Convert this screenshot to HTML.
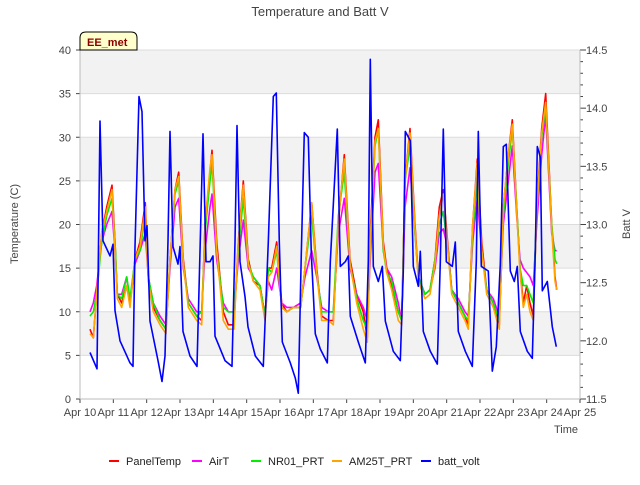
<!DOCTYPE html>
<html><head><meta charset="utf-8"><style>
body{margin:0;background:#fff}
svg text{font-family:"Liberation Sans","DejaVu Sans",sans-serif}
</style></head><body>
<svg id="c" width="640" height="480" xmlns="http://www.w3.org/2000/svg">
<text x="320" y="16" text-anchor="middle" font-size="13" fill="#444">Temperature and Batt V</text>
<g id="bands"></g><g id="grid"></g><g id="axes"></g><g id="series"></g>
<g>
<path d="M80,50 L80,38 Q80,32 86,32 L131,32 Q137,32 137,38 L137,50 Z" fill="#ffffcc" stroke="#000" stroke-width="1"/>
<text x="87" y="46" font-size="11" font-weight="bold" fill="#8b0000">EE_met</text></g>
<text x="578" y="433" text-anchor="end" font-size="11" fill="#444">Time</text>
<text transform="translate(18,224) rotate(-90)" text-anchor="middle" font-size="11" fill="#444">Temperature (C)</text>
<text transform="translate(630,224) rotate(-90)" text-anchor="middle" font-size="11" fill="#444">Batt V</text>
<g id="legend"></g>
</svg>
<script>
const xTicks=["Apr 10","Apr 11","Apr 12","Apr 13","Apr 14","Apr 15","Apr 16","Apr 17","Apr 18","Apr 19","Apr 20","Apr 21","Apr 22","Apr 23","Apr 24","Apr 25"];
const yTicks=[0,5,10,15,20,25,30,35,40];
const y2Ticks=[11.5,12.0,12.5,13.0,13.5,14.0,14.5];
const tT=[0.30,0.40,0.50,0.65,0.80,0.96,1.05,1.12,1.25,1.40,1.50,1.65,1.80,1.96,2.05,2.20,2.40,2.58,2.70,2.85,2.96,3.10,3.25,3.50,3.65,3.75,3.90,3.96,4.10,4.30,4.45,4.62,4.75,4.90,5.05,5.20,5.40,5.55,5.65,5.75,5.90,6.05,6.20,6.40,6.62,6.75,6.95,7.10,7.25,7.45,7.60,7.75,7.93,8.10,8.30,8.50,8.62,8.72,8.85,8.95,9.10,9.20,9.35,9.55,9.65,9.75,9.90,10.05,10.15,10.35,10.50,10.65,10.78,10.90,11.05,11.15,11.35,11.55,11.65,11.78,11.92,12.05,12.20,12.40,12.58,12.70,12.85,12.97,13.10,13.20,13.30,13.40,13.50,13.60,13.70,13.85,13.97,14.15,14.25,14.30];
const panel=[8,7,12,19,22,24.5,18,12,11,13,11,16,18,22.5,14,10.5,9,8,16,24,26,16,11,9.5,9,20,26,28.5,18,10,8.5,8.5,18,25,16,13.5,13,9.5,15,15,18,11,10,10.5,10.5,15,22.5,15,9.5,9,9,20,28,16,12,10,7,20,30,32,18,15,13,10,9,25,31,20,14,12,12.5,16,22,24,17,12.5,11,9.5,8.5,20,27.5,18,12.5,11,8.5,22,28,32,22,15,11,13,11,9.5,22,31,35,20,14,12.5];
const airT=[10,11,13,18,20,21.5,17,12,12,14,11,15.5,17,19,14,11,9.5,8.5,15,22,23,15,11.5,10,10,17,22,23.5,16,11,10,10,16,20.5,15,14,13,9.5,13.5,12.5,15,11,10.5,10.5,11,14,17,14,10.5,10,10,19,23,15,12,10.5,9,17,26,27,17,15,14,11,9,22,26.5,19,14,12,12.5,15,19,19.5,17,12.5,11.5,10,9.5,18,23,17,12.5,11.5,9.5,20,25,29,21,16,15,14.5,14,13,20,28,32.5,19,17,17];
const nr01=[9.5,10,12,18,21,23,18,12,11.5,14,11.5,16,17,21,14,11,9,8,16,23.5,25,15.5,11,9.5,10,19,25,27,17,10.5,10,10,17,23,15.5,14,13,9.5,15,14.5,17,10.5,10,10.5,10.5,15,21,14.5,10,10,10,21,26,15.5,11.5,9,8,19,29,31,17,14.5,13.5,10,9,25,29,19,14,12,12.5,16,20,21.5,16.5,12.5,11,9.5,9,19,25.5,17,12.5,11,9,21,27,31,22,15,13,13,12,11,22,30,33.5,20,16,15.5];
const am25=[7.5,7,12,19,21.5,24,17,11.5,10.5,13,10.5,16,17.5,22,13.5,10,8.5,7.5,16,24,25.5,15.5,10.5,9,8.5,20,26.5,28,17,9,8,8,18,24.5,15.5,13.5,12.5,9,14,14.5,17.5,10.5,10,10.5,10.5,15,22.5,14.5,9,9,8.5,20.5,27.5,15.5,11,8,6.5,19,29.5,31,17.5,14.5,12.5,9,8.5,25,30.5,19.5,13.5,11.5,12,15.5,21,23.5,16.5,12,10.5,9,8,20,27,17,12,10.5,8,22,28,31.5,21.5,14.5,10.5,12,10,9,21.5,30.5,34,19.5,13.5,12.5];
const tB=[0.30,0.51,0.60,0.69,0.90,0.99,1.05,1.20,1.50,1.59,1.65,1.77,1.86,1.95,2.01,2.10,2.34,2.46,2.55,2.64,2.70,2.79,2.94,3.00,3.09,3.30,3.51,3.60,3.69,3.78,3.90,3.99,4.05,4.35,4.56,4.65,4.71,4.80,4.95,5.04,5.26,5.50,5.65,5.80,5.89,5.98,6.07,6.31,6.46,6.55,6.64,6.73,6.85,6.94,7.06,7.21,7.42,7.51,7.72,7.81,7.96,8.05,8.11,8.35,8.56,8.65,8.71,8.80,8.95,9.07,9.16,9.40,9.61,9.70,9.76,9.91,10.00,10.15,10.21,10.30,10.51,10.72,10.81,10.90,10.99,11.17,11.26,11.35,11.56,11.77,11.89,11.95,12.04,12.25,12.37,12.49,12.61,12.70,12.79,12.91,13.03,13.12,13.21,13.42,13.57,13.66,13.72,13.81,13.87,14.02,14.17,14.29];
const batt=[11.90,11.76,13.89,12.86,12.73,12.83,12.26,12.00,11.81,11.78,12.81,14.10,13.97,12.86,12.99,12.17,11.83,11.65,11.87,12.86,13.80,12.81,12.66,12.81,12.08,11.87,11.78,12.77,13.78,12.68,12.68,12.73,12.04,11.83,11.78,12.85,13.85,12.68,12.38,12.12,11.87,11.78,12.85,14.10,14.13,12.85,11.99,11.81,11.68,11.55,12.75,13.79,13.75,12.75,12.06,11.93,11.81,12.68,13.82,12.64,12.68,12.73,12.21,11.99,11.81,12.68,14.42,12.64,12.51,12.64,12.17,11.91,11.83,12.60,13.80,13.72,12.64,12.47,12.77,12.08,11.91,11.80,12.68,13.82,12.68,12.64,12.85,12.08,11.91,11.78,12.68,13.80,12.64,12.60,11.74,11.95,12.66,13.67,13.69,12.60,12.51,12.64,12.08,11.91,11.85,12.77,13.67,13.58,12.43,12.51,12.12,11.95];
const names=["PanelTemp","AirT","NR01_PRT","AM25T_PRT","batt_volt"];
const colors=["#ff0000","#ff00ff","#00ee00","#ffa500","#0000ff"];

const NS="http://www.w3.org/2000/svg";
const L=80,R=580,T=50,B=399;
const X=d=>L+(R-L)*d/15;
const Y=v=>B-(B-T)*v/40;
const Y2=v=>B-(B-T)*(v-11.5)/3;
function mk(tag,a,parent){const e=document.createElementNS(NS,tag);for(const k in a)e.setAttribute(k,a[k]);document.getElementById(parent).appendChild(e);return e;}

for(let i=0;i<yTicks.length-1;i++){if(i%2===1){
 const r=mk("rect",{x:L,y:Y(yTicks[i+1]),width:R-L,height:Y(yTicks[i])-Y(yTicks[i+1]),fill:"#f2f2f2"},"bands");
 
 }}
yTicks.forEach(v=>{
 const g=mk("line",{x1:L,x2:R,y1:Y(v),y2:Y(v),stroke:"#dcdcdc","stroke-width":1},"grid");
 
 
 const t=mk("text",{x:L-9,y:Y(v)+4,"text-anchor":"end","font-size":11,fill:"#444"},"axes");t.textContent=v;
 
 
 mk("line",{x1:L-4,x2:L,y1:Y(v),y2:Y(v),stroke:"#444"},"axes");
});
xTicks.forEach((s,i)=>{
 const t=mk("text",{x:X(i),y:416,"text-anchor":"middle","font-size":11,fill:"#444"},"axes");t.textContent=s;
 
 
 mk("line",{x1:X(i),x2:X(i),y1:B,y2:B+4,stroke:"#444"},"axes");
});
for(let v=11.5;v<=14.501;v+=0.1){mk("line",{x1:R,x2:R+(Math.abs(v*2-Math.round(v*2))<0.01?6:3),y1:Y2(v),y2:Y2(v),stroke:"#444"},"axes");}
y2Ticks.forEach(v=>{const t=mk("text",{x:R+6,y:Y2(v)+4,"font-size":11,fill:"#444"},"axes");t.textContent=v.toFixed(1);
 
 });
mk("line",{x1:L,x2:L,y1:T,y2:B,stroke:"#bbb"},"axes");
mk("line",{x1:R,x2:R,y1:T,y2:B,stroke:"#bbb"},"axes");
mk("line",{x1:L,x2:R,y1:B,y2:B,stroke:"#bbb"},"axes");

const temps=[panel,airT,nr01,am25];
const slugs=["paneltemp-line","airt-line","nr01-prt-line","am25t-prt-line"];
temps.forEach((arr,k)=>{
 const p=mk("path",{d:arr.map((v,i)=>(i?"L":"M")+X(tT[i]).toFixed(1)+","+Y(v).toFixed(1)).join(""),fill:"none",stroke:colors[k],"stroke-width":1.6,"stroke-linejoin":"round"},"series");
 
 
});
const bp=mk("path",{d:batt.map((v,i)=>(i?"L":"M")+X(tB[i]).toFixed(1)+","+Y2(v).toFixed(1)).join(""),fill:"none",stroke:colors[4],"stroke-width":1.6,"stroke-linejoin":"round"},"series");



const lx=[120,203,262,343,432];
names.forEach((n,i)=>{
 mk("line",{x1:lx[i]-11,x2:lx[i]-1,y1:461,y2:461,stroke:colors[i],"stroke-width":2},"legend");
 const t=mk("text",{x:lx[i]+6,y:465,"font-size":11,fill:"#222"},"legend");t.textContent=n;
 
 
});
</script>
</body></html>
